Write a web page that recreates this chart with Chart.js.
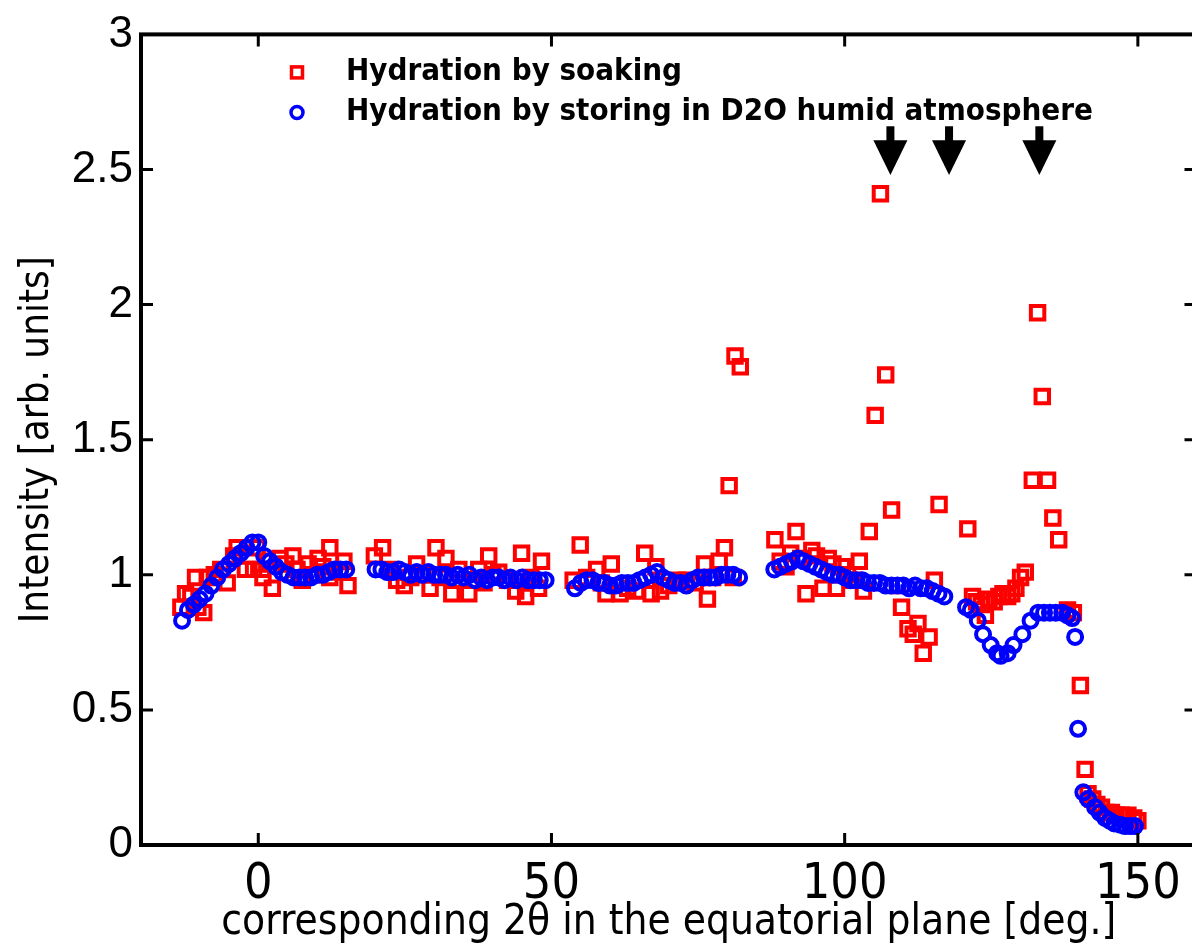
<!DOCTYPE html>
<html>
<head>
<meta charset="utf-8">
<script src="https://cdn.jsdelivr.net/npm/chart.js@4"></script>
<style>
  html, body { margin: 0; padding: 0; background: #fff; overflow: hidden; }
  canvas { display: block; }
</style>
</head>
<body>
<canvas id="myChart" width="1210" height="945"></canvas>
<script>
// soaking (red squares)
const soakX = [
  -13.2, -12.4, -11.5, -10.7, -10.3, -9.3, -8.7, -7.5, -6.4, -5.3, -4.2, -3.6, -2.2, -0.8, -0.2, 0.7, 0.8, 1.5, 2.4, 3.7,
  4.7, 5.9, 6.6, 7.5, 8.5, 9.3, 10.2, 11, 12.2, 12.2, 13.9, 14.6, 15.3,
  19.8, 21.2, 22.5, 23.6, 24.9, 26, 27, 28, 29.3, 30.3, 31, 32, 33, 34.2, 35.9, 36.8, 37.6, 38.5, 39.3, 40, 41, 42.5,
  43.9, 44.9, 45.6, 46.5, 47.8, 48.3,
  53.7, 54.9, 56, 57.7, 58.5, 59.3, 60.2, 61.7, 63, 64.5, 65.9, 67, 67.8, 68.6, 70, 71.5, 73, 74.5, 76.1, 76.6, 77.5,
  78.6, 79.5, 80.3, 81, 81.3, 82.2,
  88.1, 89, 90, 90.8, 91.7, 92.5, 93.4, 94.4, 95.2, 96.3, 97.2, 98, 98.6, 99.6, 100.5, 101.5, 102.5, 103.2, 104.2, 105.2,
  106.1, 107, 108, 109, 109.7, 110.8, 111.7, 112.5, 113.4, 114.4, 115.3, 116.1,
  121, 121.8, 122.5, 123.3, 124, 124.6, 125.5, 126.3, 127, 127.8, 128.5, 129.2, 130, 130.8, 132, 132.9, 133.7, 134.6,
  135.5, 136.5, 138, 139, 140.2, 141, 141.5, 142.3, 143, 143.8, 144.6, 145.5, 146.3, 147.2, 148.3, 149.3, 150
];
const soakY = [
  0.88, 0.93, 0.92, 0.99, 0.88, 0.86, 0.99, 1.00, 1.02, 0.97, 1.07, 1.10, 1.02, 1.02, 1.10, 1.02, 0.99, 1.05, 0.95, 1.06,
  1.04, 1.07, 1.02, 0.98, 1.04, 1.00, 1.06, 1.03, 1.10, 0.99, 1.01, 1.05, 0.96,
  1.07, 1.10, 1.02, 0.98, 0.96, 0.99, 1.04, 1.00, 0.95, 1.10, 0.99, 1.06, 0.93, 1.02, 0.93, 0.98, 1.02, 0.97, 1.07, 1.00, 1.01, 0.98,
  0.94, 1.08, 0.92, 0.99, 0.95, 1.05,
  0.98, 1.11, 0.99, 1.02, 0.97, 0.93, 1.04, 0.93, 0.95, 0.94, 1.08, 0.93, 1.03, 0.94, 0.96, 0.98, 0.98, 0.97, 1.04, 0.91, 0.99,
  1.05, 1.10, 1.33, 0.99, 1.81, 1.77,
  1.13, 1.05, 1.03, 1.08, 1.16, 1.06, 0.93, 1.09, 1.07, 0.95, 1.06, 1.04, 0.95, 1.03, 1.00, 0.98, 1.05, 0.94, 1.16, 1.59,
  2.41, 1.74, 1.24, 0.96, 0.88, 0.80, 0.78, 0.82, 0.71, 0.77, 0.98, 1.26,
  1.17, 0.92, 0.90, 0.89, 0.85, 0.91, 0.90, 0.92, 0.93, 0.92, 0.93, 0.95, 0.99, 1.01, 1.35, 1.97, 1.66, 1.35,
  1.21, 1.13, 0.87, 0.86, 0.59, 0.28, 0.19, 0.17, 0.15, 0.14, 0.12, 0.12, 0.11, 0.11, 0.11, 0.10, 0.09
];

// D2O humid atmosphere (blue circles)
const humidX = [
  -13, -12, -11, -10, -9, -8, -7, -6, -5, -4, -3, -2, -1, 0, 1, 2, 3, 4, 5, 6, 7, 8, 9, 10, 11, 12, 13, 14, 15,
  20, 21, 22, 23, 24, 25, 26, 27, 28, 29, 30, 31, 32, 33, 34, 35, 36, 37, 38, 39, 40, 41, 42, 43, 44, 45, 46, 47, 48, 49,
  54, 55, 56, 57, 58, 59, 60, 61, 62, 63, 64, 65, 66, 67, 68, 69, 70, 71, 72, 73, 74, 75, 76, 77, 78, 79, 80, 81, 82,
  88, 89, 90, 91, 92, 93, 94, 95, 96, 97, 98, 99, 100, 101, 102, 103, 104, 105, 106, 107, 108, 109, 110, 111, 112, 113,
  114, 115, 116, 117,
  120.7, 121.5, 122.7, 123.6, 124.9, 126, 126.6, 127.8, 128.8, 130.3, 131.7, 133, 134, 135, 136, 137.1, 138, 138.8, 139.3,
  139.8, 140.7, 141.5, 142.7, 143.5, 144.4, 145.2, 146, 147, 147.8, 148.7, 149.5
];
const humidY = [
  0.83, 0.87, 0.89, 0.91, 0.93, 0.96, 0.99, 1.02, 1.04, 1.06, 1.08, 1.10, 1.12, 1.12, 1.07, 1.05, 1.03, 1.01, 1.00, 0.99,
  0.99, 0.99, 0.99, 1.00, 1.00, 1.01, 1.02, 1.02, 1.02,
  1.02, 1.02, 1.01, 1.01, 1.02, 1.01, 1.00, 1.01, 1.00, 1.01, 1.00, 1.00, 1.00, 0.99, 1.00, 0.99, 1.00, 0.98, 0.99, 0.98,
  0.99, 0.99, 0.98, 0.99, 0.98, 0.99, 0.98, 0.98, 0.98, 0.98,
  0.95, 0.97, 0.98, 0.98, 0.97, 0.97, 0.96, 0.96, 0.97, 0.97, 0.97, 0.98, 0.99, 1.00, 1.01, 0.99, 0.98, 0.97, 0.97, 0.96,
  0.98, 0.99, 0.99, 0.99, 0.99, 1.00, 1.00, 1.00, 0.99,
  1.02, 1.03, 1.04, 1.05, 1.06, 1.05, 1.04, 1.03, 1.02, 1.01, 1.00, 1.00, 0.99, 0.98, 0.98, 0.98, 0.97, 0.97, 0.97, 0.96,
  0.96, 0.96, 0.96, 0.95, 0.96, 0.95, 0.95, 0.94, 0.93, 0.92,
  0.88, 0.87, 0.83, 0.78, 0.74, 0.71, 0.70, 0.71, 0.74, 0.78, 0.83, 0.86, 0.86, 0.86, 0.86, 0.86, 0.85, 0.84, 0.77,
  0.43, 0.195, 0.17, 0.14, 0.12, 0.10, 0.09, 0.08, 0.075, 0.07, 0.07, 0.07
];

const xTicks = [0, 50, 100, 150];
const yTicks = [0, 0.5, 1, 1.5, 2, 2.5, 3];
const arrowX = [107.8, 117.8, 133.2];
const arrowTop = 2.66, arrowTip = 2.48;
const seriesNames = ["Hydration by soaking", "Hydration by storing in D2O humid atmosphere"];

const toPts = (xs, ys) => xs.map((x, i) => ({ x: x, y: ys[i] }));
const narrow = "'Liberation Sans Narrow', 'DejaVu Sans Condensed', 'Liberation Sans', sans-serif";

// frame, inward ticks, arrows and legend
const decor = {
  id: "decor",
  afterDraw(chart) {
    const ctx = chart.ctx, a = chart.chartArea;
    const xs = chart.scales.x, ys = chart.scales.y;
    ctx.save();
    ctx.strokeStyle = "#000";
    ctx.lineWidth = 4;
    ctx.strokeRect(a.left, a.top, a.right - a.left, a.bottom - a.top);
    ctx.lineWidth = 3;
    ctx.beginPath();
    xTicks.forEach(v => {
      const px = xs.getPixelForValue(v);
      ctx.moveTo(px, a.bottom); ctx.lineTo(px, a.bottom - 12);
      ctx.moveTo(px, a.top); ctx.lineTo(px, a.top + 12);
    });
    yTicks.forEach(v => {
      const py = ys.getPixelForValue(v);
      ctx.moveTo(a.left, py); ctx.lineTo(a.left + 12, py);
      ctx.moveTo(a.right, py); ctx.lineTo(a.right - 12, py);
    });
    ctx.stroke();

    // arrows
    ctx.fillStyle = "#000";
    arrowX.forEach(v => {
      const px = xs.getPixelForValue(v);
      const top = ys.getPixelForValue(arrowTop), tip = ys.getPixelForValue(arrowTip);
      ctx.fillRect(px - 4, top, 8, 20);
      ctx.beginPath();
      ctx.moveTo(px - 17, top + 14);
      ctx.lineTo(px + 17, top + 14);
      ctx.lineTo(px, tip);
      ctx.closePath();
      ctx.fill();
    });

    // legend
    const lx = a.left + 156, ly = a.top + 38;
    ctx.lineWidth = 3.5;
    ctx.strokeStyle = "#f00";
    ctx.strokeRect(lx - 5.5, ly - 5.5, 11, 11);
    ctx.strokeStyle = "#00f";
    ctx.beginPath();
    ctx.arc(lx, ly + 40, 6, 0, Math.PI * 2);
    ctx.stroke();
    ctx.fillStyle = "#000";
    ctx.font = "bold 31px " + narrow;
    ctx.textBaseline = "middle";
    ctx.fillText(seriesNames[0], lx + 49, ly);
    ctx.fillText(seriesNames[1], lx + 49, ly + 40);
    ctx.restore();
  }
};

const config = {
  type: "scatter",
  data: {
    datasets: [
      {
        label: seriesNames[0],
        data: toPts(soakX, soakY),
        pointStyle: "rect",
        pointRadius: 9.5,
        borderColor: "rgb(255, 0, 0)",
        backgroundColor: "rgba(0,0,0,0)",
        borderWidth: 4,
        order: 1
      },
      {
        label: seriesNames[1],
        data: toPts(humidX, humidY),
        pointStyle: "circle",
        pointRadius: 7,
        borderColor: "rgb(0, 0, 255)",
        backgroundColor: "rgba(0,0,0,0)",
        borderWidth: 4,
        order: 0
      }
    ]
  },
  options: {
    responsive: false,
    animation: false,
    layout: { padding: { top: 30, right: 8, left: 0, bottom: 0 } },
    plugins: { legend: { display: false }, tooltip: { enabled: false } },
    scales: {
      x: {
        type: "linear",
        min: -20,
        max: 160,
        afterBuildTicks: s => { s.ticks = xTicks.map(v => ({ value: v })); },
        afterFit: s => { s.height = 100; },
        grid: { display: false, drawTicks: false },
        border: { display: false },
        ticks: { color: "#000", padding: 10, font: { family: narrow, size: 50 }, callback: v => String(v) },
        title: {
          display: true,
          text: "corresponding 2\u03b8 in the equatorial plane [deg.]",
          color: "#000",
          padding: { top: 0, bottom: -3 },
          font: { family: narrow, size: 42 }
        }
      },
      y: {
        min: 0,
        max: 3,
        afterBuildTicks: s => { s.ticks = yTicks.map(v => ({ value: v })); },
        afterFit: s => { s.width = 141; },
        grid: { display: false, drawTicks: false },
        border: { display: false },
        ticks: { color: "#000", padding: 8, font: { family: "'Liberation Sans', Arial, sans-serif", size: 44 }, callback: v => String(v) },
        title: {
          display: true,
          text: "Intensity [arb. units]",
          color: "#000",
          padding: { top: 14, bottom: 0 },
          font: { family: narrow, size: 40 }
        }
      }
    }
  },
  plugins: [decor]
};

const myChart = new Chart(document.getElementById("myChart"), config);
</script>
</body>
</html>
